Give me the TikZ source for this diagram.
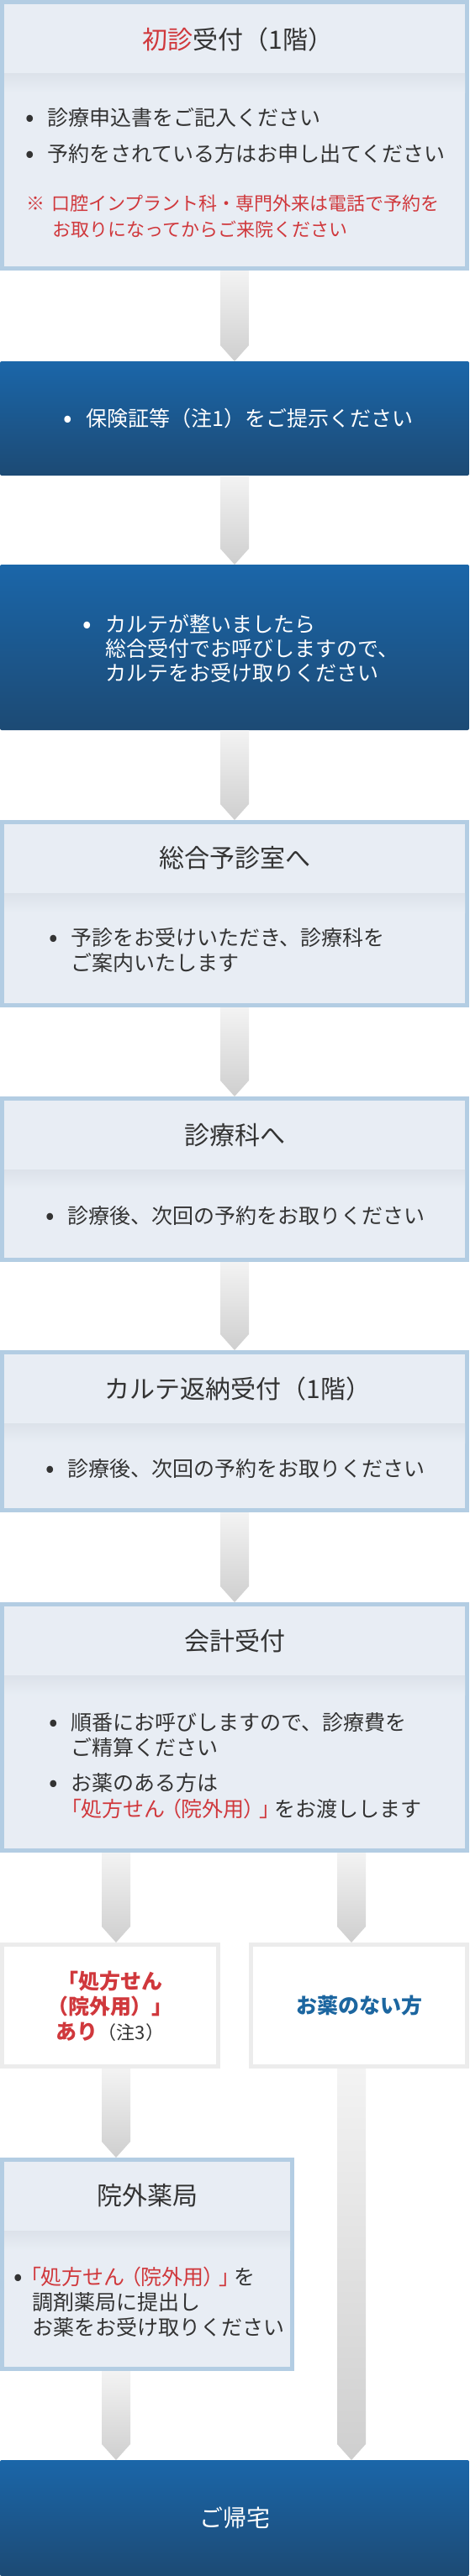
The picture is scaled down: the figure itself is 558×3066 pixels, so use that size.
\documentclass[tikz,border=0pt]{standalone}
\usepackage{fontspec}
\setmainfont{Noto Sans CJK JP}
\newfontfamily\jpp{Noto Sans CJK JP}[RawFeature=+palt]
\usetikzlibrary{calc}
\definecolor{lbord}{HTML}{B3CDE3}
\definecolor{lfill}{HTML}{E8EDF4}
\definecolor{lband}{HTML}{DCE2EA}
\definecolor{dtop}{HTML}{1B66A9}
\definecolor{dbot}{HTML}{1C4A74}
\definecolor{txtc}{HTML}{333333}
\definecolor{jred}{HTML}{D0383C}
\definecolor{jblue}{HTML}{1C66A0}
\definecolor{wbord}{HTML}{ECECEC}
\definecolor{atop}{HTML}{F3F3F3}
\definecolor{abot}{HTML}{CFCFCF}
\newcommand\blockarrow[2]{%
  \shade[arrowshade] let \p1=(#1), \p2=(#2) in
    ({\x1-17pt},\y1) -- ({\x1+17pt},\y1) -- ({\x1+17pt},{\y2+19pt}) --
    (\x1,\y2) -- ({\x1-17pt},{\y2+19pt}) -- cycle;}
\newcommand\jbr[1]{{\jpp #1}}
\begin{document}
\begin{tikzpicture}[x=1pt,y=-1pt,
  lbox/.style={draw=lbord, fill=lfill, line width=5pt, inner sep=0pt, anchor=north west},
  dbox/.style={top color=dtop, bottom color=dbot, draw=none, inner sep=0pt, outer sep=0pt, anchor=north west, rounded corners=2pt},
  wbox/.style={draw=wbord, fill=white, line width=5pt, inner sep=0pt, anchor=north west},
  band/.style={top color=lband, bottom color=lfill, draw=none},
  arrowshade/.style={top color=atop, bottom color=abot, draw=none},
  body/.style={font=\fontsize{25pt}{30pt}\selectfont, text=txtc, inner sep=0pt, anchor=base west},
  bodyw/.style={body, text=white},
  bul/.style={font=\fontsize{31pt}{36pt}\selectfont, text=txtc, inner sep=0pt, anchor=base},
  bulw/.style={bul, text=white},
  ttl/.style={font=\fontsize{30pt}{36pt}\selectfont, text=txtc, inner sep=0pt, anchor=base},
  notet/.style={font=\fontsize{22pt}{26pt}\selectfont, text=jred, inner sep=0pt, anchor=base west},
  redb/.style={font=\fontsize{25pt}{30pt}\selectfont\bfseries, text=jred, inner sep=0pt, anchor=base},
  blueb/.style={font=\fontsize{25pt}{30pt}\selectfont\bfseries, text=jblue, inner sep=0pt, anchor=base},
]
\useasboundingbox (0,0) rectangle (558,3066);
\coordinate (colL) at (138,0);
\coordinate (colR) at (418,0);

% ---------- box 1
\node[lbox, minimum width=553pt, minimum height=317pt] (b1) at (0,0) {};
\shade[band] ($(b1.north west)+(5,87)$) rectangle ($(b1.north east)+(-5,110)$);
\node[ttl] (h1) at (283,58) {\textcolor{jred}{初診}受付（1階）};
\node[bul] (d1a) at (36,150) {•};
\node[body] (t1a) at (56,149) {診療申込書をご記入ください};
\node[bul] (d1b) at (36,193) {•};
\node[body] (t1b) at (56,192) {予約をされている方はお申し出てください};
\node[notet] (n1m) at (31,250) {※};
\node[notet] (n1a) at (61,250) {口腔インプラント科・専門外来は電話で予約を};
\node[notet] (n1b) at (62,281) {お取りになってからご来院ください};

% ---------- box 2
\node[dbox, minimum width=558pt, minimum height=136pt] (b2) at (0,430) {};
\node[bulw] (d2) at (81,508) {•};
\node[bodyw] (t2) at (102,507) {保険証等（注1）をご提示ください};

% ---------- box 3
\node[dbox, minimum width=558pt, minimum height=197pt] (b3) at (0,672) {};
\node[bulw] (d3) at (104,753) {•};
\node[bodyw] (t3a) at (125,752) {カルテが整いましたら};
\node[bodyw] (t3b) at (125,781) {総合受付でお呼びしますので、};
\node[bodyw] (t3c) at (125,810) {カルテをお受け取りください};

% ---------- box 4
\node[lbox, minimum width=553pt, minimum height=218pt] (b4) at (0,976) {};
\shade[band] ($(b4.north west)+(5,87)$) rectangle ($(b4.north east)+(-5,110)$);
\node[ttl] (h4) at (279,1032) {総合予診室へ};
\node[bul] (d4) at (64,1126) {•};
\node[body] (t4a) at (84,1125) {予診をお受けいただき、診療科を};
\node[body] (t4b) at (84,1155) {ご案内いたします};

% ---------- box 5
\node[lbox, minimum width=553pt, minimum height=192pt] (b5) at (0,1305) {};
\shade[band] ($(b5.north west)+(5,87)$) rectangle ($(b5.north east)+(-5,110)$);
\node[ttl] (h5) at (279,1362) {診療科へ};
\node[bul] (d5) at (60,1457) {•};
\node[body] (t5) at (80,1456) {診療後、次回の予約をお取りください};

% ---------- box 6
\node[lbox, minimum width=553pt, minimum height=188pt] (b6) at (0,1607) {};
\shade[band] ($(b6.north west)+(5,87)$) rectangle ($(b6.north east)+(-5,110)$);
\node[ttl] (h6) at (283,1664) {カルテ返納受付（1階）};
\node[bul] (d6) at (60,1758) {•};
\node[body] (t6) at (80,1757) {診療後、次回の予約をお取りください};

% ---------- box 7
\node[lbox, minimum width=553pt, minimum height=293pt] (b7) at (0,1907) {};
\shade[band] ($(b7.north west)+(5,87)$) rectangle ($(b7.north east)+(-5,110)$);
\node[ttl] (h7) at (279,1964) {会計受付};
\node[bul] (d7a) at (64,2060) {•};
\node[body] (t7a) at (84,2059) {順番にお呼びしますので、診療費を};
\node[body] (t7b) at (84,2089) {ご精算ください};
\node[bul] (d7b) at (64,2132) {•};
\node[body] (t7c) at (84,2131) {お薬のある方は};
\node[body] (t7d) at (84,2162) {\textcolor{jred}{\jbr{「}処方せん\hspace{.25em}\jbr{（}院外用\jbr{）}\hspace{.25em}\jbr{」}}\hspace{.2em}をお渡しします};

% ---------- branch boxes
\node[wbox, minimum width=257pt, minimum height=145pt] (bl) at (0,2312) {};
\node[redb] (l1) at (131,2367) {「処方せん};
\node[redb] (l2) at (131,2397) {（院外用）」};
\node[redb] (l3) at (131,2427) {あり{\mdseries\color{txtc}\fontsize{22pt}{26pt}\selectfont（注3）}};
\node[wbox, minimum width=257pt, minimum height=145pt] (br) at (296,2312) {};
\node[blueb] (r1) at (427,2396) {お薬のない方};

% ---------- box 8
\node[lbox, minimum width=345pt, minimum height=249pt] (b8) at (0,2568) {};
\shade[band] ($(b8.north west)+(5,87)$) rectangle ($(b8.north east)+(-5,110)$);
\node[ttl] (h8) at (175,2624) {院外薬局};
\node[bul] (d8) at (22,2720) {•};
\node[body] (t8a) at (36,2719) {\textcolor{jred}{\jbr{「}処方せん\hspace{.25em}\jbr{（}院外用\jbr{）}\hspace{.25em}\jbr{」}}\hspace{.2em}を};
\node[body] (t8b) at (38,2749) {調剤薬局に提出し};
\node[body] (t8c) at (38,2779) {お薬をお受け取りください};

% ---------- final box
\node[dbox, minimum width=558pt, minimum height=138pt] (bf) at (0,2928) {};
\node[ttl, text=white, font=\fontsize{28pt}{34pt}\selectfont] (hf) at (279,3007) {ご帰宅};

% ---------- arrows
\blockarrow{b1.south}{b2.north}
\blockarrow{b2.south}{b3.north}
\blockarrow{b3.south}{b4.north}
\blockarrow{b4.south}{b5.north}
\blockarrow{b5.south}{b6.north}
\blockarrow{b6.south}{b7.north}
\blockarrow{b7.south -| colL}{bl.north -| colL}
\blockarrow{b7.south -| colR}{br.north -| colR}
\blockarrow{bl.south -| colL}{b8.north -| colL}
\blockarrow{b8.south -| colL}{bf.north -| colL}
\blockarrow{br.south -| colR}{bf.north -| colR}
\end{tikzpicture}
\end{document}
